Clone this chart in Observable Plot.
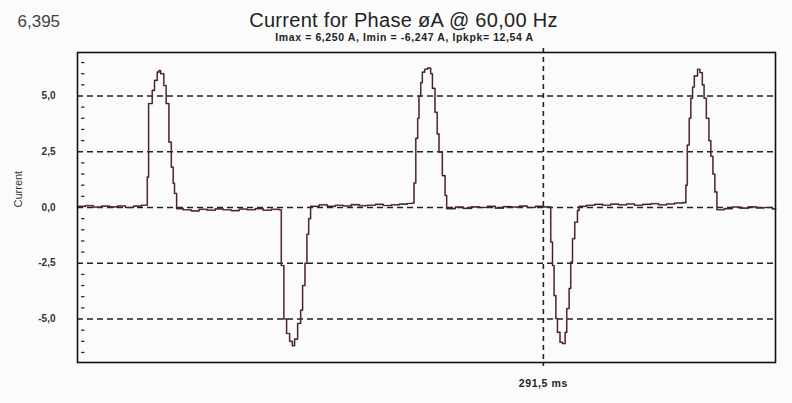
<!DOCTYPE html>
<html>
<head>
<meta charset="utf-8">
<script src="https://cdn.jsdelivr.net/npm/d3@7"></script>
<script src="https://cdn.jsdelivr.net/npm/@observablehq/plot@0.6"></script>
<style>
  html, body { margin: 0; padding: 0; background: #fbfbfb; }
  #chart svg { display: block; }
</style>
</head>
<body>
<div id="chart"></div>
<script>
// ---- Data (time in ms, current in A) ----
const timeMs = [
  262.40, 262.90, 263.40, 263.90, 264.40, 264.90, 265.40, 265.90, 266.40,
  266.76, 266.84, 267.07, 267.21, 267.38, 267.48, 267.59, 267.79, 267.94, 268.11, 268.26, 268.38, 268.46,
  268.59, 269.00, 269.50, 270.00, 270.50, 271.00, 271.50, 272.00, 272.50, 273.00, 273.50, 274.00, 274.50, 275.00,
  275.13, 275.29, 275.46, 275.65, 275.82, 275.96, 276.15, 276.34, 276.46, 276.61, 276.73, 276.84,
  276.96, 277.50, 278.00, 278.50, 279.00, 279.50, 280.00, 280.50, 281.00, 281.50, 282.00, 282.50, 283.00, 283.30,
  283.42, 283.53, 283.65, 283.73, 283.84, 283.94, 284.09, 284.26, 284.46, 284.57, 284.73, 284.87, 284.98, 285.19, 285.36,
  285.46, 286.00, 286.50, 287.00, 287.50, 288.00, 288.50, 289.00, 289.50, 290.00, 290.50, 291.00, 291.50,
  291.96, 292.07, 292.17, 292.28, 292.38, 292.54, 292.69, 292.86, 292.96, 293.11, 293.21, 293.32, 293.46, 293.63,
  293.73, 294.20, 294.70, 295.20, 295.70, 296.20, 296.70, 297.20, 297.70, 298.20, 298.70, 299.20, 299.70, 300.20,
  300.40, 300.49, 300.61, 300.71, 300.82, 300.93, 301.13, 301.28, 301.43, 301.54, 301.68, 301.84, 301.96, 302.09, 302.21,
  302.34, 302.80, 303.30, 303.80, 304.30, 304.80, 305.30, 305.80, 306.00
];
const currentA = [
  0.05, 0.08, 0.02, 0.06, 0.03, 0.07, 0.00, 0.06, 0.10,
  1.36, 4.66, 5.25, 5.70, 6.07, 6.14, 6.00, 5.47, 4.66, 2.93, 1.81, 1.08, 0.63,
  -0.05, -0.10, -0.15, -0.08, -0.12, -0.06, -0.10, -0.14, -0.07, -0.10, -0.05, -0.12, -0.08, -0.10,
  -2.60, -5.00, -5.65, -6.00, -6.20, -5.90, -5.20, -4.60, -3.50, -2.50, -1.20, -0.50,
  0.05, 0.12, 0.05, 0.10, 0.07, 0.13, 0.08, 0.10, 0.14, 0.09, 0.12, 0.15, 0.18, 0.20,
  1.10, 3.10, 4.00, 5.00, 5.60, 6.07, 6.20, 6.25, 6.00, 5.34, 4.27, 3.30, 2.48, 1.43, 0.54,
  -0.05, 0.02, -0.04, 0.03, 0.00, 0.05, -0.03, 0.04, 0.02, 0.06, 0.00, 0.05, 0.03,
  -1.55, -2.60, -3.95, -4.98, -5.60, -6.04, -6.10, -5.60, -4.53, -3.63, -2.45, -1.40, -0.66, -0.13,
  0.05, 0.10, 0.14, 0.10, 0.15, 0.12, 0.16, 0.10, 0.14, 0.17, 0.12, 0.16, 0.20, 0.22,
  1.00, 2.80, 4.00, 4.90, 5.40, 5.90, 6.20, 6.05, 5.50, 4.90, 4.00, 3.00, 2.30, 1.50, 0.70,
  -0.10, -0.05, 0.02, -0.03, 0.03, -0.02, 0.00, -0.06, -0.02
];
const yTicks = [5.0, 2.5, 0.0, -2.5, -5.0];
const yMinorTicks = [6.5, 6.0, 5.5, 4.5, 4.0, 3.5, 3.0, 2.0, 1.5, 1.0, 0.5,
                     -0.5, -1.0, -1.5, -2.0, -3.0, -3.5, -4.0, -4.5, -5.5, -6.0, -6.5];
const cursorMs = [291.5];
const xDomain = [262.4, 306.0];
const yDomain = [-6.95, 6.95];
const titleText = "Current for Phase øA @ 60,00 Hz";
const subtitleText = "Imax = 6,250 A, Imin = -6,247 A, Ipkpk= 12,54 A";
const scaleMaxText = "6,395";
const yLabelText = "Current";

const data = timeMs.map((t, i) => ({t, v: currentA[i]}));
const fmt = d => d.toFixed(1).replace(".", ",");
const FONT = "Liberation Sans, Arial, sans-serif";

const chart = Plot.plot({
  width: 792,
  height: 403,
  marginLeft: 77,
  marginRight: 17,
  marginTop: 52,
  marginBottom: 41,
  style: {background: "#fbfbfb", fontFamily: FONT, color: "#222"},
  x: {domain: xDomain, axis: null},
  y: {domain: yDomain, axis: null},
  marks: [
    Plot.ruleY(yTicks, {stroke: "#222", strokeWidth: 1.6, strokeDasharray: "6,4"}),
    Plot.ruleY(yMinorTicks, {x1: xDomain[0], x2: xDomain[0] + 0.22, dx: 4, stroke: "#333", strokeWidth: 1.3}),
    Plot.ruleX(cursorMs, {stroke: "#222", strokeWidth: 1.6, strokeDasharray: "5,4", insetTop: -4, insetBottom: -4}),
    Plot.line(data, {x: "t", y: "v", curve: "step-after", stroke: "#b22222", strokeWidth: 1.7, strokeOpacity: 0.6}),
    Plot.line(data, {x: "t", y: "v", curve: "step-after", stroke: "#2a2a2a", strokeWidth: 1.1}),
    Plot.frame({stroke: "#111", strokeWidth: 1.6}),
    Plot.axisY(yTicks, {anchor: "left", tickSize: 0, tickPadding: 22, tickFormat: fmt,
      fontSize: 10, fontWeight: "bold", fill: "#333", label: null}),
    Plot.text(cursorMs, {x: d => d, frameAnchor: "bottom", dy: 21, lineAnchor: "middle", text: d => fmt(d) + " ms",
      fontSize: 10.5, fontWeight: "bold", fill: "#222"}),
    Plot.text([titleText], {frameAnchor: "top", dx: -23, dy: -32, lineAnchor: "middle", fontSize: 20, fill: "#222"}),
    Plot.text([subtitleText], {frameAnchor: "top", dx: -22, dy: -15, lineAnchor: "middle", fontSize: 10.5, fontWeight: "bold", fill: "#222"}),
    Plot.text([scaleMaxText], {frameAnchor: "top-left", dx: -60, dy: -31, lineAnchor: "middle", fontSize: 17, fill: "#444"}),
    Plot.text([yLabelText], {frameAnchor: "left", dx: -59, rotate: -90, fontSize: 11, fill: "#333"})
  ]
});
// slightly wider letter spacing to match the reference's wide bitmap-like font
d3.select(chart).selectAll("text").filter(function() {
  const s = this.textContent;
  return s === subtitleText || s === "291,5 ms";
}).attr("letter-spacing", "0.6px");
d3.select(chart).selectAll("text").filter(function() {
  return this.textContent === titleText;
}).attr("letter-spacing", "0.3px");
document.getElementById("chart").append(chart);
</script>
</body>
</html>
